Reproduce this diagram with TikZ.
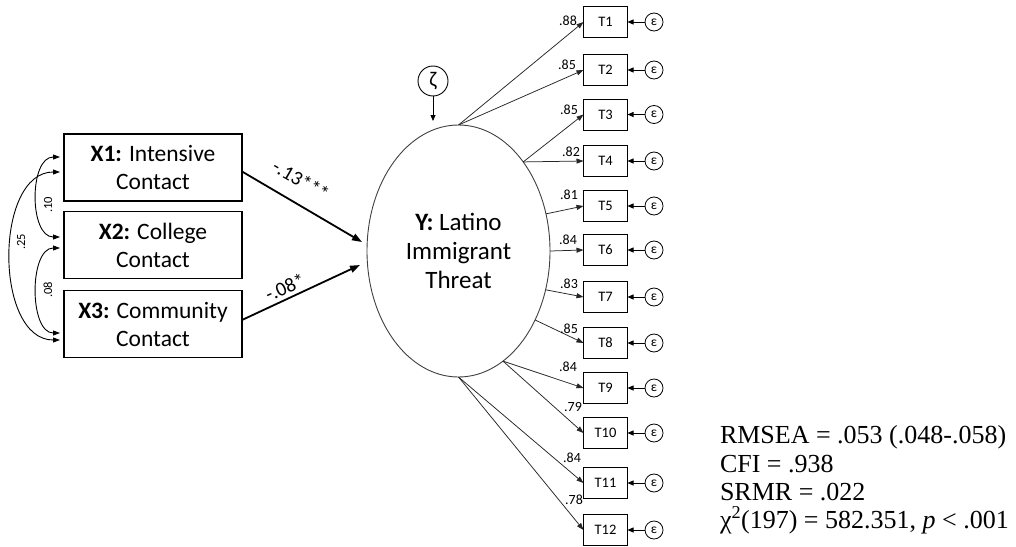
\documentclass[tikz,border=0pt]{standalone}
\usepackage{fontspec}
\setmainfont{Carlito}
\newfontfamily\fitfont{Liberation Serif}
\usetikzlibrary{arrows.meta,shapes.geometric,calc}

\begin{document}
\begin{tikzpicture}[x=1pt,y=-1pt,
  every node/.style={inner sep=0pt, outer sep=0pt},
  xbox/.style={draw, line width=1.1pt, minimum width=178pt, minimum height=67pt,
    align=center, font=\fontsize{23.5}{28}\selectfont},
  latent/.style={ellipse, draw=black!75, line width=0.9pt, minimum width=183pt,
    minimum height=252pt, align=center, font=\fontsize{25}{29}\selectfont},
  tbox/.style={draw, line width=0.8pt, minimum width=44pt, minimum height=31pt,
    font=\fontsize{14.5}{16}\selectfont},
  errc/.style={circle, draw, line width=0.8pt, minimum size=18pt,
    font=\fontsize{13.5}{15}\selectfont},
  distc/.style={circle, draw, line width=0.9pt, minimum size=30pt,
    font=\fontsize{21}{22}\selectfont},
  load/.style={-{Triangle[length=7pt,width=5pt]}, line width=0.75pt, draw=black!85},
  errarrow/.style={-{Triangle[length=6pt,width=5pt]}, line width=0.8pt},
  path/.style={-{Triangle[length=10pt,width=7pt]}, line width=1.8pt},
  covar/.style={{Triangle[length=7pt,width=5pt]}-{Triangle[length=7pt,width=5pt]}, line width=0.9pt},
  loadlab/.style={font=\fontsize{14}{15}\selectfont},
  covlab/.style={rotate=90, font=\fontsize{12.5}{14}\selectfont},
  pathlab/.style={font=\fontsize{20}{24}\selectfont},
  fit/.style={anchor=base west, font=\fitfont\fontsize{26}{28}\selectfont}
]
\fill[white] (0,0) rectangle (1016,546);
\useasboundingbox (0,0) rectangle (1016,546);

% exogenous contact measures
\node[xbox] (X1) at (153,167.5) {\textbf{X1:} Intensive\\Contact};
\node[xbox] (X2) at (153,245) {\textbf{X2:} College\\Contact};
\node[xbox] (X3) at (153,324) {\textbf{X3:} Community\\Contact};

% latent outcome and its disturbance
\node[latent] (Y) at (458.5,251) {\textbf{Y:} Latino\\Immigrant\\Threat};
\node[distc] (Z) at (433,81) {ζ};
\coordinate (Ztip) at (433,121);
\draw[errarrow] (Z.south) -- (Ztip);

% indicators with their error terms
\foreach \i/\yy in {1/22,2/70,3/114.5,4/161,5/206,6/250,7/297,8/343,9/388,10/433,11/483,12/530}{
  \node[tbox] (T\i) at (605.5,\yy) {T\i};
  \node[errc] (E\i) at (654,\yy) {ε};
  \draw[errarrow] (E\i.west) -- (T\i.east);
}

% factor loadings
\foreach \i/\ang in {1/90,2/90,3/54,4/54,5/23.5,6/0,7/-24.6,8/-42.5,9/-68,10/-68,11/-90,12/-90}{
  \draw[load] (Y.\ang) -- (T\i.west);
}
\node[loadlab] (l1) at (568,21) {.88};
\node[loadlab] (l2) at (567,65) {.85};
\node[loadlab] (l3) at (569,110) {.85};
\node[loadlab] (l4) at (571,152) {.82};
\node[loadlab] (l5) at (569,195) {.81};
\node[loadlab] (l6) at (568,240) {.84};
\node[loadlab] (l7) at (569,284) {.83};
\node[loadlab] (l8) at (569,329) {.85};
\node[loadlab] (l9) at (568,367) {.84};
\node[loadlab] (l10) at (573,407) {.79};
\node[loadlab] (l11) at (572,458) {.84};
\node[loadlab] (l12) at (574,500) {.78};

% structural paths
\coordinate (Yin1) at (362,242);
\coordinate (Yin3) at (360,265);
\draw[path] ($(X1.east)+(0,4)$) -- (Yin1);
\draw[path] ($(X3.east)+(0,-4)$) -- (Yin3);
\node[pathlab, rotate=-30] (b1) at (301,180) {-.13***};
\node[pathlab, rotate=24] (b3) at (285,287) {-.08*};

% correlations among the contact measures
\draw[covar] ($(X1.west)+(-4,-10.5)$) .. controls (29,157) and (29,237) .. ($(X2.west)+(-4,-8)$);
\draw[covar] ($(X1.west)+(-4,4.5)$) .. controls (-6,172) and (-6,340) .. ($(X3.west)+(-4,16)$);
\draw[covar] ($(X2.west)+(-4,3)$) .. controls (29,248) and (29,333) .. ($(X3.west)+(-4,9)$);
\node[covlab] (c12) at (48,205) {.10};
\node[covlab] (c13) at (21,242) {.25};
\node[covlab] (c23) at (48,290) {.08};

% fit statistics
\node[fit] (f1) at (720,443) {RMSEA = .053 (.048-.058)};
\node[fit] (f2) at (720,472) {CFI = .938};
\node[fit] (f3) at (720,500) {SRMR = .022};
\node[fit] (f4) at (720,528) {χ\textsuperscript{2}(197) = 582.351, \textit{p} < .001};
\end{tikzpicture}
\end{document}
